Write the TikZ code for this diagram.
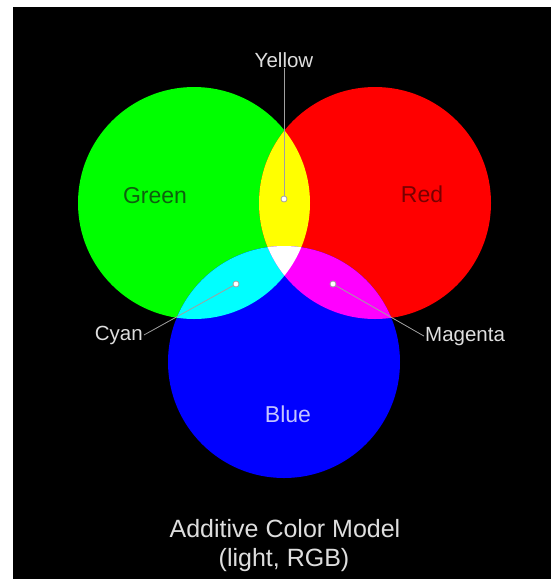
\documentclass[tikz,border=0pt]{standalone}
\usepackage{fontspec}
\setmainfont{Liberation Sans}
\definecolor{cG}{RGB}{0,255,0}
\definecolor{cR}{RGB}{255,0,0}
\definecolor{cB}{RGB}{0,0,255}
\definecolor{cY}{RGB}{255,255,0}
\definecolor{cC}{RGB}{0,255,255}
\definecolor{cM}{RGB}{255,0,255}
\definecolor{labgray}{RGB}{222,222,222}
\definecolor{linegray}{RGB}{160,160,160}
\definecolor{gtext}{RGB}{14,96,14}
\definecolor{rtext}{RGB}{120,0,0}
\definecolor{btext}{RGB}{196,196,255}
\begin{document}
\begin{tikzpicture}[x=1pt,y=-1pt,
  dotmark/.style={circle,fill=white,draw=linegray,line width=0.8pt,minimum size=6pt,inner sep=0pt},
  mainlab/.style={inner sep=1pt,font=\fontsize{23}{27}\selectfont,anchor=base},
  sublab/.style={inner sep=1pt,font=\fontsize{20.5}{24}\selectfont,text=labgray},
  titlelab/.style={inner sep=1pt,font=\fontsize{25}{29}\selectfont,text=labgray,anchor=base},
  leader/.style={draw=linegray,line width=0.8pt}]
\useasboundingbox (0,0) rectangle (557,579);
\fill[white] (0,0) rectangle (557,579);
\fill[black] (13,7) rectangle (551,579);
\def\Gc{(194,203) circle [radius=116pt]}
\def\Rc{(375,203) circle [radius=116pt]}
\def\Bc{(284,362) circle [radius=116pt]}
\fill[cG] \Gc;
\fill[cR] \Rc;
\fill[cB] \Bc;
\begin{scope}\clip \Gc; \fill[cY] \Rc; \end{scope}
\begin{scope}\clip \Gc; \fill[cC] \Bc; \end{scope}
\begin{scope}\clip \Rc; \fill[cM] \Bc; \end{scope}
\begin{scope}\clip \Gc; \clip \Rc; \fill[white] \Bc; \end{scope}
% main labels
\node[mainlab,text=gtext] (glab) at (155,203) {Green};
\node[mainlab,text=rtext] (rlab) at (422,202) {Red};
\node[mainlab,text=btext] (blab) at (288,422) {Blue};
% dots
\node[dotmark] (ydot) at (284,199) {};
\node[dotmark] (cdot) at (236,284) {};
\node[dotmark] (mdot) at (333,284) {};
% secondary labels
\node[sublab,anchor=base] (ylab) at (284,67) {Yellow};
\node[sublab,anchor=base east] (clab) at (144,340) {Cyan};
\node[sublab,anchor=base west] (mlab) at (424,341) {Magenta};
\draw[leader] (ydot |- ylab.south) -- (ydot);
\draw[leader] (cdot) -- (clab.east);
\draw[leader] (mdot) -- (mlab.west);
% title
\node[titlelab] (t1) at (285,537) {Additive Color Model};
\node[titlelab] (t2) at (284,566) {(light, RGB)};
\end{tikzpicture}
\end{document}
